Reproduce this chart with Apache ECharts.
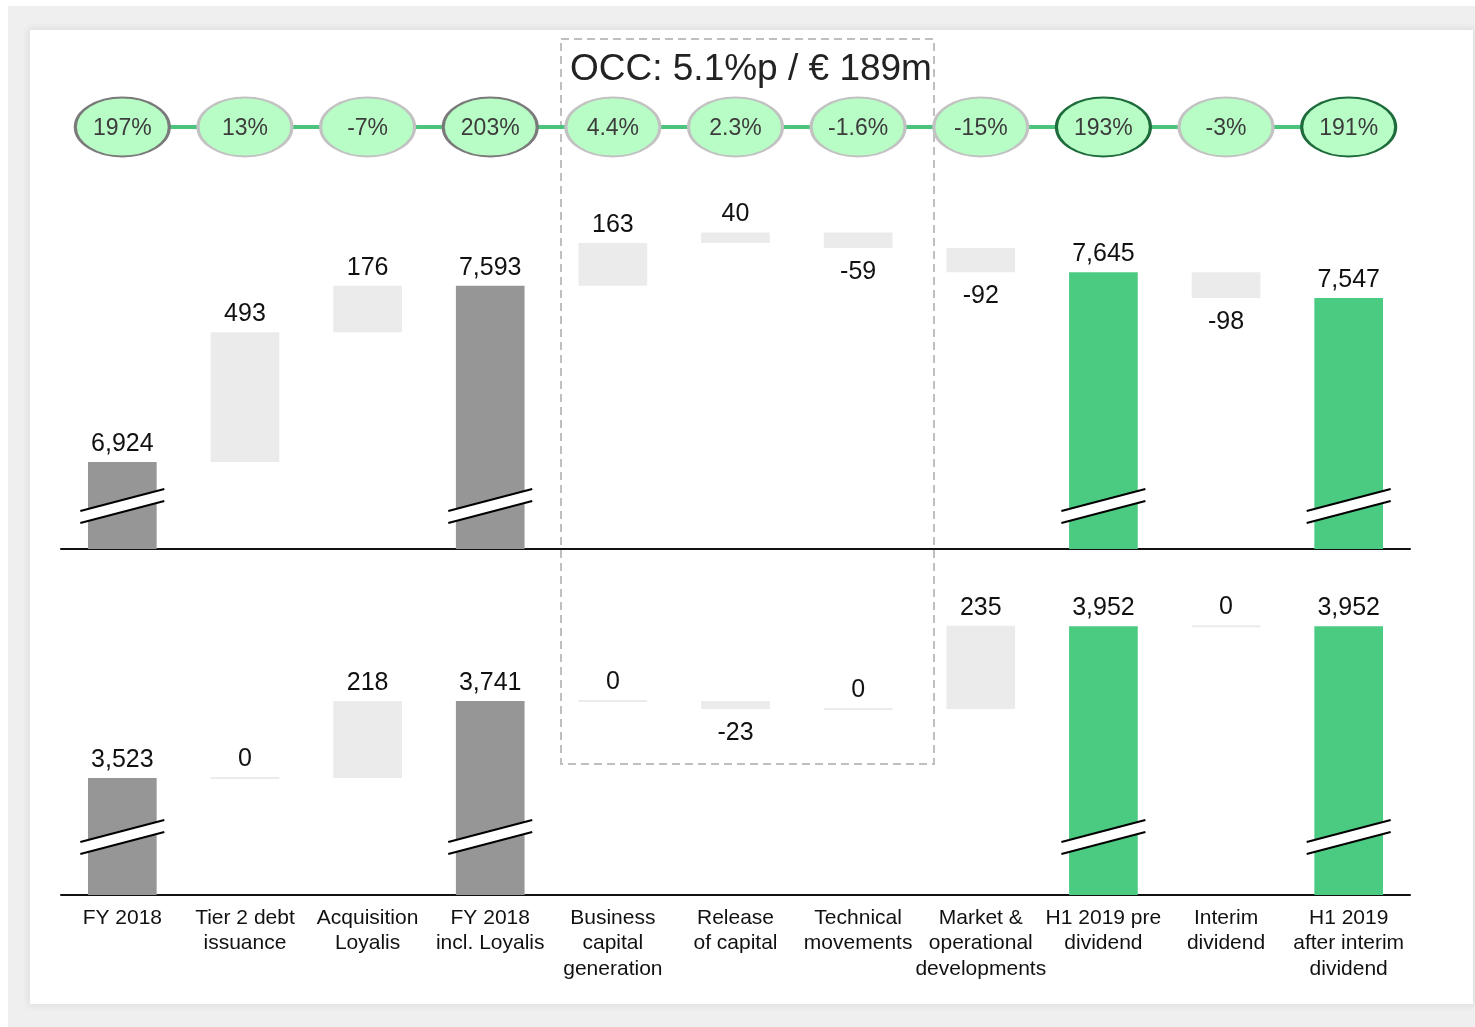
<!DOCTYPE html>
<html>
<head>
<meta charset="utf-8">
<script src="https://cdn.jsdelivr.net/npm/echarts@6/dist/echarts.min.js"></script>
<style>
html,body{margin:0;padding:0;background:#fff;width:1475px;height:1027px;overflow:hidden;}
#frame{position:absolute;left:8px;top:6px;width:1467px;height:1021px;background:#efefef;}
#inner{position:absolute;left:30px;top:30px;width:1443px;height:974px;background:#fff;box-shadow:0 0 7px 2px rgba(0,0,0,0.07);}
#chart{position:absolute;left:0;top:0;width:1475px;height:1027px;}
</style>
</head>
<body>
<div id="frame"></div>
<div id="inner"></div>
<div id="chart"></div>
<script>
// ---- data ----
const categories = ['FY 2018', 'Tier 2 debt\nissuance', 'Acquisition\nLoyalis', 'FY 2018\nincl. Loyalis',
  'Business\ncapital\ngeneration', 'Release\nof capital', 'Technical\nmovements',
  'Market &\noperational\ndevelopments', 'H1 2019 pre\ndividend', 'Interim\ndividend',
  'H1 2019\nafter interim\ndividend'];
const ownFunds = [6924, 493, 176, 7593, 163, 40, -59, -92, 7645, -98, 7547];
const scr = [3523, 0, 218, 3741, 0, -23, 0, 235, 3952, 0, 3952];
const ratioLabels = ['197%', '13%', '-7%', '203%', '4.4%', '2.3%', '-1.6%', '-15%', '193%', '-3%', '191%'];
// 0 = change, 1 = grey total, 2 = green total
const barKinds = [1, 0, 0, 1, 0, 0, 0, 0, 2, 0, 2];
const occTitle = 'OCC: 5.1%p / € 189m';

// ---- styling ----
const FONT = '"Liberation Sans", Arial, sans-serif';
const COL_DELTA = '#ebebeb', COL_GREY = '#969696', COL_GREEN = '#4bcb82';
const topMin = 6593.6, topMax = 7919.1;
const botMin = 3192.4, botMax = 4082.6;

function buildWaterfall(values) {
  let run = 0;
  return values.map((v, i) => {
    const k = barKinds[i];
    if (k > 0) { run = v; return [i, v, v, v, k]; }
    const lo = run, hi = run + v; run = hi;
    return [i, Math.min(lo, hi), Math.max(lo, hi), v, k];
  });
}
const fmt = v => v.toLocaleString('en-US');

function makeRender(panelMin, breakOffset) {
  return function (params, api) {
    const i = api.value(0), lo = api.value(1), hi = api.value(2), v = api.value(3), k = api.value(4);
    const w = api.size([1, 0])[0] * 0.56;
    const cx = api.coord([i, hi])[0];
    let yTop = api.coord([i, hi])[1];
    let yBot = k > 0 ? api.coord([i, panelMin])[1] : api.coord([i, lo])[1];
    if (yBot - yTop < 2) { const m = (yTop + yBot) / 2; yTop = m - 1; yBot = m + 1; }
    const children = [{
      type: 'rect',
      shape: { x: cx - w / 2, y: yTop, width: w, height: yBot - yTop },
      style: { fill: k === 0 ? COL_DELTA : (k === 1 ? COL_GREY : COL_GREEN) }
    }];
    const ly = (k > 0 || v >= 0) ? yTop - 18 : yBot + 24;
    children.push({
      type: 'text',
      style: { text: fmt(v), x: cx, y: ly, align: 'center', verticalAlign: 'middle',
        fontSize: 25, fontFamily: FONT, fill: '#111' }
    });
    if (k > 0) {
      const yc = yBot - breakOffset;
      children.push({
        type: 'polygon',
        shape: { points: [[cx - 42, yc + 5], [cx + 42, yc - 17], [cx + 42, yc - 5], [cx - 42, yc + 17]] },
        style: { fill: '#fff' }
      });
      children.push({ type: 'line', shape: { x1: cx - 42, y1: yc + 5, x2: cx + 42, y2: yc - 17 },
        style: { stroke: '#000', lineWidth: 2 } });
      children.push({ type: 'line', shape: { x1: cx - 42, y1: yc + 17, x2: cx + 42, y2: yc - 5 },
        style: { stroke: '#000', lineWidth: 2 } });
    }
    return { type: 'group', children };
  };
}

const ellipseBorder = k => k === 1 ? '#7a7a7a' : (k === 2 ? '#1e6b3b' : '#c2c2c2');

const chart = echarts.init(document.getElementById('chart'));
const xBase = { type: 'category', data: categories, boundaryGap: true,
  axisTick: { show: false }, splitLine: { show: false } };

chart.setOption({
  animation: false,
  grid: [
    { left: 61, right: 65, top: 200, height: 349 },
    { left: 61, right: 65, top: 580, height: 315 },
    { left: 61, right: 65, top: 97, height: 60 }
  ],
  xAxis: [
    Object.assign({}, xBase, { gridIndex: 0, axisLabel: { show: false },
      axisLine: { show: true, lineStyle: { color: '#111', width: 2 } } }),
    Object.assign({}, xBase, { gridIndex: 1,
      axisLine: { show: true, lineStyle: { color: '#111', width: 2 } },
      axisLabel: { show: true, interval: 0, margin: 10, fontSize: 21, lineHeight: 25.5,
        fontFamily: FONT, color: '#111' } }),
    Object.assign({}, xBase, { gridIndex: 2, show: false })
  ],
  yAxis: [
    { type: 'value', gridIndex: 0, min: topMin, max: topMax, show: false, splitLine: { show: false } },
    { type: 'value', gridIndex: 1, min: botMin, max: botMax, show: false, splitLine: { show: false } },
    { type: 'value', gridIndex: 2, min: -1, max: 1, show: false, splitLine: { show: false } }
  ],
  graphic: [
    { type: 'rect', z: 0, silent: true,
      shape: { x: 561, y: 39, width: 373, height: 725 },
      style: { fill: 'none', stroke: '#bfbfbf', lineWidth: 2, lineDash: [8, 5] } },
    { type: 'text', left: 570, top: 51, z: 10,
      style: { text: occTitle, fontSize: 37, fontFamily: FONT, fill: '#222' } }
  ],
  series: [
    { type: 'custom', xAxisIndex: 0, yAxisIndex: 0, data: buildWaterfall(ownFunds),
      renderItem: makeRender(topMin, 43), encode: { x: 0, y: [1, 2] }, z: 2 },
    { type: 'custom', xAxisIndex: 1, yAxisIndex: 1, data: buildWaterfall(scr),
      renderItem: makeRender(botMin, 58), encode: { x: 0, y: [1, 2] }, z: 2 },
    { type: 'line', xAxisIndex: 2, yAxisIndex: 2, z: 5,
      symbol: 'circle', symbolSize: [94, 59],
      lineStyle: { color: '#4cc47e', width: 4 },
      itemStyle: { color: '#b8fcc6', borderWidth: 2.5 },
      label: { show: true, position: 'inside', fontSize: 23, fontFamily: FONT, color: '#3c3c3c',
        offset: [0, 2], formatter: p => ratioLabels[p.dataIndex] },
      emphasis: { disabled: true },
      data: ratioLabels.map((t, i) => ({ value: 0, itemStyle: { borderColor: ellipseBorder(barKinds[i]) } }))
    }
  ]
});
</script>
</body>
</html>
